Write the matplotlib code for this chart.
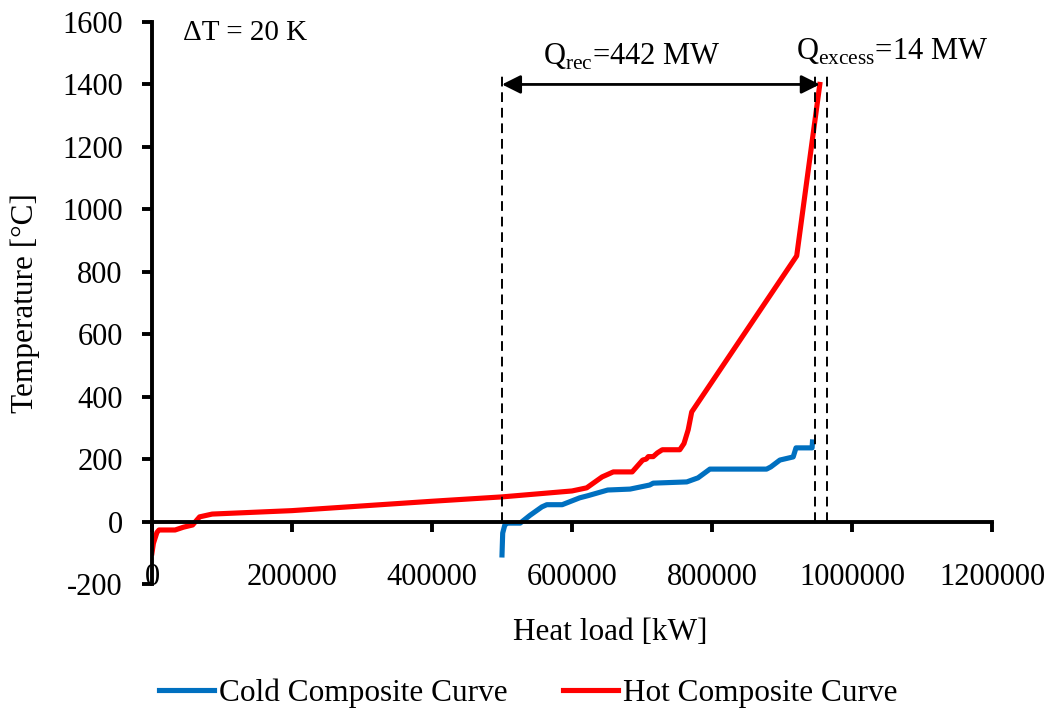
import numpy as np
import matplotlib.pyplot as plt
from matplotlib.ticker import FormatStrFormatter

plt.rcParams['font.family'] = ['Liberation Serif', 'DejaVu Serif']
plt.rcParams['axes.unicode_minus'] = False

# hot composite curve (heat load kW, temperature C)
hot_q = [0, 2000, 7000, 10000, 33000, 45000, 58000, 68000, 86000, 200000,
         400000, 500000, 600000, 621000, 643000, 659000, 686000, 701000,
         706000, 709000, 716000, 722000, 729000, 754000, 760000, 766000, 771000,
         921000, 954000]
hot_t = [-100, -70, -35, -27, -27, -18, -11, 15, 24, 35,
         65, 79, 98, 108, 143, 159, 159, 197,
         200, 208, 208, 220, 230, 230, 250, 294, 351,
         851, 1400]

# cold composite curve
cold_q = [500000, 501000, 504000, 508000, 526000, 540000, 557000, 564000, 586000,
          611000, 623000, 651000, 683000, 711000, 716000, 764000, 780000, 797000,
          878000, 884000, 897000, 916000, 920000, 943000, 943500]
cold_t = [-107, -37, -11, -5, -5, 20, 47, 54, 54,
          76, 83, 101, 104, 117, 123, 127, 140, 168,
          168, 175, 197, 207, 236, 236, 255]

q_pinch = 500000
q_cold_end = 947000
q_hot_end = 964000
q_arrow_end = 954000

fig = plt.figure(figsize=(10.54, 7.11), dpi=100)
ax = fig.add_axes([152/1054, 1-584/711, 840/1054, 562/711])

ax.plot(cold_q, cold_t, color='#0070C0', lw=3.7, label='Cold Composite Curve')
ax.plot(hot_q, hot_t, color='#FF0000', lw=3.7, label='Hot Composite Curve')

for q in [q_pinch, q_cold_end, q_hot_end]:
    ax.plot([q, q], [0, 1440], color='black', lw=1.4, ls=(0, (5, 3)))

ax.annotate('', xy=(q_arrow_end, 1400), xytext=(q_pinch, 1400),
            arrowprops=dict(arrowstyle='<|-|>', color='black', lw=2,
                            mutation_scale=28, shrinkA=0, shrinkB=0))
ax.text(686000, 1488, r'Q$_{\mathregular{rec}}$=442 MW', fontsize=22, ha='center', va='center')
ax.text(920000, 1504, r'Q$_{\mathregular{excess}}$=14 MW', fontsize=22, ha='left', va='center')
ax.text(44000, 1565, '\u0394T = 20 K', fontsize=21, ha='left', va='center')

ax.set_xlim(0, 1200000)
ax.set_ylim(-200, 1600)
ax.set_xticks(np.arange(0, 1200001, 200000))
ax.set_yticks(np.arange(-200, 1601, 200))
ax.xaxis.set_major_formatter(FormatStrFormatter('%d'))
ax.spines['top'].set_visible(False)
ax.spines['right'].set_visible(False)
ax.spines['bottom'].set_position(('data', 0))
ax.spines['bottom'].set_linewidth(2.8)
ax.spines['left'].set_linewidth(2.8)
ax.tick_params(axis='x', direction='out', length=7, width=2.8, pad=23, labelsize=22)
ax.tick_params(axis='y', direction='out', length=7, width=2.8, pad=14, labelsize=22)
ax.set_xlabel('Heat load [kW]', fontsize=22.5)
ax.set_ylabel('Temperature [\u00b0C]', fontsize=22.5)
ax.xaxis.set_label_coords(0.545, -0.06)
ax.yaxis.set_label_coords(-0.133, 0.5)

ax.legend(loc='center', bbox_to_anchor=(0.448, -0.195), ncol=2, frameon=False,
          fontsize=22.5, handlelength=1.76, columnspacing=1.76, handletextpad=0.16)

fig.savefig('out.png', dpi=100)
